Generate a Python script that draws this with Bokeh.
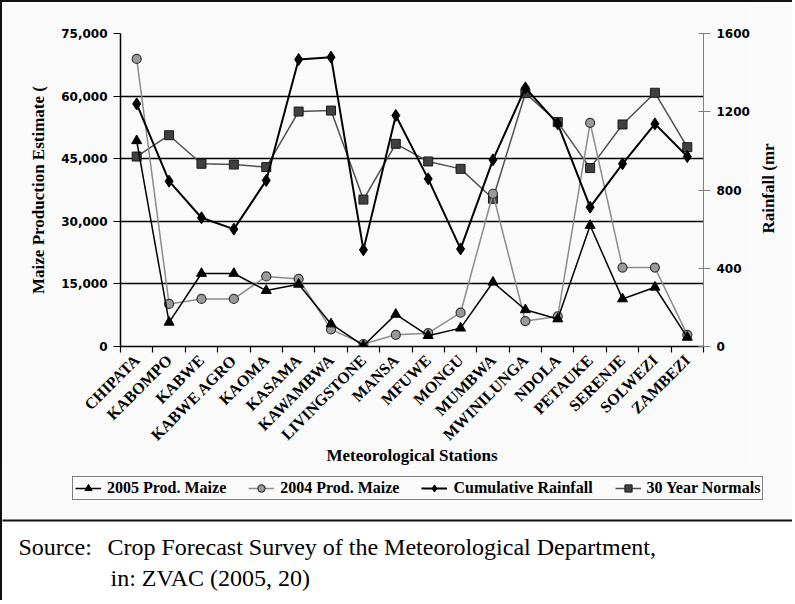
import math
import numpy as np
from bokeh.plotting import figure
from bokeh.models import (Range1d, LinearAxis, FixedTicker, NumeralTickFormatter,
                          CustomJSTickFormatter, Legend, LegendItem, Grid, Label,
                          BoxAnnotation, ColumnDataSource)
from bokeh.layouts import column, row
from bokeh.embed import file_html
from bokeh.resources import INLINE

# ---------------- data ----------------
stations = ["CHIPATA", "KABOMPO", "KABWE", "KABWE AGRO", "KAOMA", "KASAMA",
            "KAWAMBWA", "LIVINGSTONE", "MANSA", "MFUWE", "MONGU", "MUMBWA",
            "MWINILUNGA", "NDOLA", "PETAUKE", "SERENJE", "SOLWEZI", "ZAMBEZI"]
prod_2005 = [49300, 5800, 17500, 17500, 13400, 14900, 5400, 200, 7700,
             2600, 4400, 15400, 8800, 6600, 29000, 11400, 14200, 2200]
prod_2004 = [68900, 10200, 11400, 11400, 16800, 16200, 4100, 600, 2800,
             3200, 8100, 36600, 6100, 7200, 53600, 18900, 18900, 2800]
rain_cumulative = [1240, 845, 658, 600, 849, 1467, 1479, 494, 1181,
                   857, 499, 954, 1322, 1138, 712, 934, 1138, 971]
rain_normals = [971, 1080, 934, 930, 917, 1201, 1206, 751, 1036,
                946, 908, 755, 1295, 1147, 912, 1135, 1297, 1019]
prod_ticks = [0, 15000, 30000, 45000, 60000, 75000]
rain_ticks = [0, 400, 800, 1200, 1600]
series_labels = ["2005 Prod. Maize", "2004 Prod. Maize",
                 "Cumulative Rainfall", "30 Year Normals"]
left_title = "Maize Production Estimate ("
right_title = "Rainfall (mr"
x_title = "Meteorological Stations"
source_label = "Source:"
source_lines = ["Crop Forecast Survey of the Meteorological Department,",
                "in: ZVAC (2005, 20)"]

n = len(stations)
xc = [float(v) for v in np.arange(n) + 0.5]
cds = ColumnDataSource(dict(x=xc, p05=prod_2005, p04=prod_2004,
                            rc=rain_cumulative, rn=rain_normals))

SERIF = "Liberation Serif"
NUMF = "DejaVu Sans"
BG = "#fafafa"
BORDER = "2px solid #111"

# series styles: (line kwargs, marker kwargs)
STY_05 = (dict(line_color="black", line_width=1.5),
          dict(marker="triangle", size=10, fill_color="black", line_color="black"))
STY_04 = (dict(line_color="#8c8c8c", line_width=1.5),
          dict(marker="circle", size=9, fill_color="#9a9a9a", line_color="#333333",
               line_width=1.2))
STY_RC = (dict(line_color="black", line_width=2),
          dict(marker="diamond", size=12, fill_color="black", line_color="black"))
STY_RN = (dict(line_color="#505050", line_width=1.5),
          dict(marker="square", size=9, fill_color="#404040", line_color="#1a1a1a"))

TW = 792                 # total content width (after the 2px left border)
W, H = 751, 470          # main chart canvas
FL, FR, FT, FB = 118, 701, 31, 344   # frame edges in canvas pixels

p = figure(width=W, height=H, x_range=Range1d(0, n),
           y_range=Range1d(prod_ticks[0], prod_ticks[-1]),
           output_backend="svg", toolbar_location=None,
           x_axis_type=None, y_axis_type=None,
           min_border_left=FL, min_border_right=W - FR,
           min_border_top=FT, min_border_bottom=H - FB,
           background_fill_color=BG, border_fill_color=BG,
           outline_line_color=None, frame_align=False)
p.extra_y_ranges = {"rain": Range1d(rain_ticks[0], rain_ticks[-1])}
p.styles = {"border-left": BORDER, "border-top": BORDER}

# grid
p.add_layout(Grid(dimension=1, ticker=FixedTicker(ticks=prod_ticks[1:]),
                  grid_line_color="black", grid_line_width=1.5))

# x axis
xaxis = LinearAxis(ticker=FixedTicker(ticks=xc, minor_ticks=list(range(n + 1))),
                   formatter=CustomJSTickFormatter(args=dict(names=stations),
                                                   code="return names[Math.floor(tick)];"),
                   axis_label=x_title)
xaxis.axis_line_color = "black"
xaxis.axis_line_width = 1.5
xaxis.major_tick_in = 0
xaxis.major_tick_out = 0
xaxis.minor_tick_in = 0
xaxis.minor_tick_out = 6
xaxis.minor_tick_line_color = "black"
xaxis.minor_tick_line_width = 1.2
xaxis.major_label_orientation = math.pi / 4
xaxis.major_label_standoff = 5
xaxis.major_label_text_font = SERIF
xaxis.major_label_text_font_style = "bold"
xaxis.major_label_text_font_size = "16px"
xaxis.major_label_text_color = "black"
xaxis.axis_label_text_font = SERIF
xaxis.axis_label_text_font_style = "bold"
xaxis.axis_label_text_font_size = "17px"
xaxis.axis_label_text_color = "black"
xaxis.axis_label_standoff = -7
p.add_layout(xaxis, "below")

# left axis
laxis = LinearAxis(ticker=FixedTicker(ticks=prod_ticks),
                   formatter=NumeralTickFormatter(format="0,0"),
                   axis_label=left_title)
laxis.axis_line_color = "black"
laxis.axis_line_width = 1.5
laxis.major_tick_in = 0
laxis.major_tick_out = 7
laxis.major_tick_line_color = "black"
laxis.major_label_standoff = 6
laxis.major_label_text_font = NUMF
laxis.major_label_text_font_style = "bold"
laxis.major_label_text_font_size = "12px"
laxis.major_label_text_color = "black"
laxis.axis_label_text_font = SERIF
laxis.axis_label_text_font_style = "bold"
laxis.axis_label_text_font_size = "17px"
laxis.axis_label_text_color = "black"
laxis.axis_label_standoff = 10
p.add_layout(laxis, "left")

# right axis (its title is drawn in the narrow strip to the right)
raxis = LinearAxis(y_range_name="rain", ticker=FixedTicker(ticks=rain_ticks))
raxis.axis_line_color = "#808080"
raxis.axis_line_width = 1
raxis.major_tick_in = 5
raxis.major_tick_out = 7
raxis.major_tick_line_color = "#808080"
raxis.major_label_standoff = 6
raxis.major_label_text_font = NUMF
raxis.major_label_text_font_style = "bold"
raxis.major_label_text_font_size = "12px"
raxis.major_label_text_color = "black"
p.add_layout(raxis, "right")

# series
rnl = p.line("x", "rn", source=cds, y_range_name="rain", **STY_RN[0])
rnm = p.scatter("x", "rn", source=cds, y_range_name="rain", **STY_RN[1])
r04l = p.line("x", "p04", source=cds, **STY_04[0])
r04m = p.scatter("x", "p04", source=cds, **STY_04[1])
rcl = p.line("x", "rc", source=cds, y_range_name="rain", **STY_RC[0])
rcm = p.scatter("x", "rc", source=cds, y_range_name="rain", **STY_RC[1])
r05l = p.line("x", "p05", source=cds, **STY_05[0])
r05m = p.scatter("x", "p05", source=cds, **STY_05[1])

# ---------------- right strip with the rainfall axis title ----------------
RW = TW - W
rstrip = figure(width=RW, height=H, x_range=Range1d(0, RW), y_range=Range1d(0, H),
                output_backend="svg", toolbar_location=None,
                x_axis_type=None, y_axis_type=None, min_border=0,
                background_fill_color=BG, border_fill_color=BG,
                outline_line_color=None, frame_align=False)
rstrip.styles = {"border-top": BORDER}
# page x 770, page y 188 -> strip coordinates
rstrip.add_layout(Label(x=770 - (2 + W), y=H - (188 - 2), text=right_title,
                        angle=math.pi / 2, text_align="center", text_baseline="middle",
                        text_font=SERIF, text_font_style="bold", text_font_size="17px",
                        text_color="black"))

# ---------------- lower panel: legend + source note ----------------
HB = 130          # height of lower panel; its data units are pixels
PAGE_TOP = 2 + H  # page y of lower panel top


def ly(page_y):
    return HB - (page_y - PAGE_TOP)


low = figure(width=TW, height=HB, x_range=Range1d(0, TW), y_range=Range1d(0, HB),
             output_backend="svg", toolbar_location=None,
             x_axis_type=None, y_axis_type=None, min_border=0,
             background_fill_color="white", border_fill_color="white",
             outline_line_color=None, frame_align=False)
low.styles = {"border-left": BORDER}

low.add_layout(BoxAnnotation(left=-5, right=TW + 5, bottom=ly(521), top=HB + 5,
                             fill_color=BG, fill_alpha=1, line_color=None,
                             level="underlay"))
low.add_layout(BoxAnnotation(left=-5, right=TW + 5, bottom=ly(523), top=ly(521),
                             fill_color="#111111", fill_alpha=1, line_color=None))

# legend proxies: same series drawn in this panel, where every value lies far
# above its visible range, so only their legend glyphs show
items = []
for lab, col, sty in zip(series_labels, ["p05", "p04", "rc", "rn"],
                         [STY_05, STY_04, STY_RC, STY_RN]):
    gl = low.line("x", col, source=cds, **sty[0])
    gm = low.scatter("x", col, source=cds, **sty[1])
    items.append(LegendItem(label=lab, renderers=[gl, gm]))

legend = Legend(items=items, orientation="horizontal", location=(70, ly(502)),
                border_line_color="black", border_line_width=1,
                background_fill_color=BG, background_fill_alpha=1,
                label_text_font=SERIF, label_text_font_style="bold",
                label_text_font_size="16px", label_text_color="black",
                glyph_width=26, glyph_height=18, label_height=16,
                spacing=22, padding=2, label_standoff=6, margin=0)
low.add_layout(legend, "center")

for txt, px, py in [(source_label, 18, 548), (source_lines[0], 107, 548),
                    (source_lines[1], 110, 579)]:
    low.add_layout(Label(x=px - 2, y=ly(py), text=txt, text_font=SERIF,
                         text_font_size="24px", text_baseline="middle",
                         text_color="black"))

layout = column(row(p, rstrip, spacing=0), low, spacing=0)
open("out.html", "w").write(file_html(layout, INLINE))
